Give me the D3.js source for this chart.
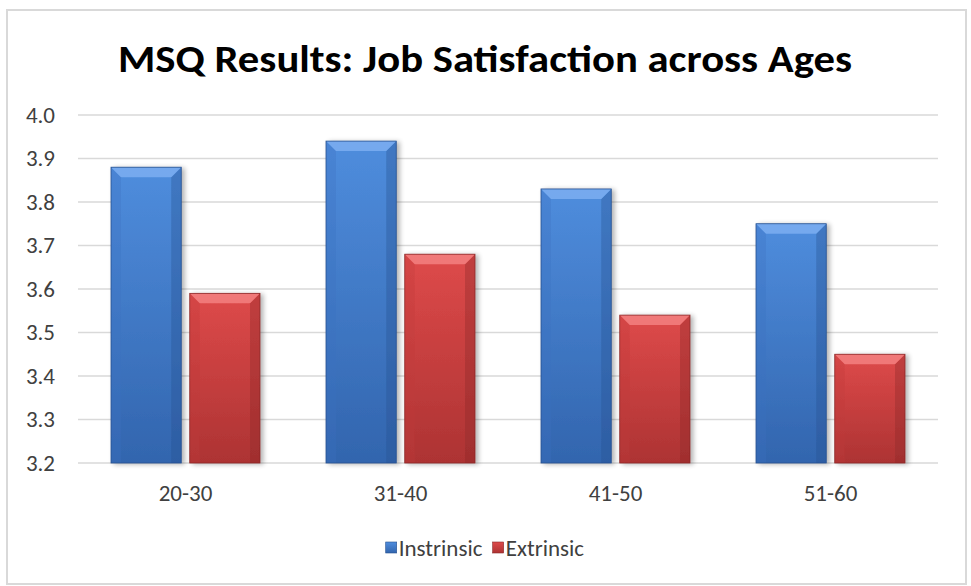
<!DOCTYPE html>
<html>
<head>
<meta charset="utf-8">
<script src="https://cdn.jsdelivr.net/npm/d3@7"></script>
<style>
  html, body { margin: 0; padding: 0; background: #fff; }
  svg { display: block; }
  text { font-family: Carlito, Calibri, "Open Sans", sans-serif; }
</style>
</head>
<body>
<svg id="chart" width="971" height="586"></svg>
<script>
// Age groups and MSQ mean scores
const categories = ["20-30", "31-40", "41-50", "51-60"];
const seriesNames = ["Instrinsic", "Extrinsic"];
const intrinsic = [3.88, 3.94, 3.83, 3.75];
const extrinsic = [3.59, 3.68, 3.54, 3.45];
const yTicks = [3.2, 3.3, 3.4, 3.5, 3.6, 3.7, 3.8, 3.9, 4.0];
const titleText = "MSQ Results: Job Satisfaction across Ages";

const svg = d3.select("#chart");
const fontFam = "Carlito, Calibri, 'Open Sans', sans-serif";
const labelSize = 23;

// chart frame
svg.append("rect")
  .attr("x", 7).attr("y", 10).attr("width", 959).attr("height", 574)
  .attr("fill", "#fff").attr("stroke", "#d9d9d9").attr("stroke-width", 2);

const plot = { left: 78, right: 938, top: 115, bottom: 463 };

const x0 = d3.scaleBand().domain(categories)
  .range([plot.left, plot.right]).paddingInner(0).paddingOuter(0);
const x1 = d3.scaleBand().domain(seriesNames)
  .range([33, x0.bandwidth() - 33]).paddingInner(0.108);
const y = d3.scaleLinear().domain([3.2, 4.0]).range([plot.bottom, plot.top]);

// gridlines
svg.append("g").selectAll("line").data(yTicks).join("line")
  .attr("x1", plot.left).attr("x2", plot.right)
  .attr("y1", d => y(d)).attr("y2", d => y(d))
  .attr("stroke", "#d9d9d9").attr("stroke-width", 1.3);

// y axis labels
const yAxis = svg.append("g")
  .attr("transform", `translate(${plot.left},0)`)
  .call(d3.axisLeft(y).tickValues(yTicks).tickFormat(d3.format(".1f")).tickSize(0).tickPadding(23));
yAxis.select(".domain").remove();
yAxis.attr("font-family", fontFam).attr("font-size", labelSize);
yAxis.selectAll("text").attr("fill", "#404040");

// x axis labels
const xAxis = svg.append("g")
  .attr("transform", `translate(0,${plot.bottom})`)
  .call(d3.axisBottom(x0).tickSize(0).tickPadding(22));
xAxis.select(".domain").remove();
xAxis.attr("font-family", fontFam).attr("font-size", labelSize);
xAxis.selectAll("text").attr("fill", "#404040");

// gradients
const defs = svg.append("defs");
const palette = {
  "Instrinsic": { top: "#4f8ddd", bot: "#3265ae", bevel: "#80b0f2", side: "#3a70bf", edge: "#26508f" },
  "Extrinsic":  { top: "#de4a4a", bot: "#ad3333", bevel: "#f58484", side: "#c03c3c", edge: "#8a2828" }
};
Object.entries(palette).forEach(([k, c], i) => {
  const g = defs.append("linearGradient").attr("id", "g" + i)
    .attr("x1", 0).attr("y1", 0).attr("x2", 0).attr("y2", 1);
  g.append("stop").attr("offset", "0%").attr("stop-color", c.top);
  g.append("stop").attr("offset", "100%").attr("stop-color", c.bot);
});
const shadow = defs.append("filter").attr("id", "shadow")
  .attr("x", "-20%").attr("y", "-10%").attr("width", "140%").attr("height", "120%");
shadow.append("feGaussianBlur").attr("in", "SourceAlpha").attr("stdDeviation", 2.5);
shadow.append("feOffset").attr("dx", 3).attr("dy", 1).attr("result", "ob");
shadow.append("feComponentTransfer").append("feFuncA").attr("type", "linear").attr("slope", 0.3);
const mg = shadow.append("feMerge");
mg.append("feMergeNode");
mg.append("feMergeNode").attr("in", "SourceGraphic");

// bars
const rows = categories.map((c, i) => ({ cat: c, vals: [
  { s: "Instrinsic", v: intrinsic[i], gi: 0 },
  { s: "Extrinsic", v: extrinsic[i], gi: 1 }
]}));

const groups = svg.append("g").selectAll("g").data(rows).join("g")
  .attr("transform", d => `translate(${x0(d.cat)},0)`);

const bars = groups.selectAll("g.bar").data(d => d.vals).join("g").attr("class", "bar")
  .attr("filter", "url(#shadow)");

const bv = 10; // bevel depth
bars.each(function(d) {
  const g = d3.select(this);
  const c = palette[d.s];
  const bx = x1(d.s), bw = x1.bandwidth();
  const by = y(d.v), bh = plot.bottom - by;
  g.append("rect").attr("x", bx).attr("y", by).attr("width", bw).attr("height", bh)
    .attr("fill", `url(#g${d.gi})`);
  // left/right bevel strips
  g.append("polygon").attr("points",
    [[bx, by], [bx + bv, by + bv], [bx + bv, plot.bottom], [bx, plot.bottom]].join(" "))
    .attr("fill", c.side).attr("opacity", 0.3);
  g.append("polygon").attr("points",
    [[bx + bw, by], [bx + bw - bv, by + bv], [bx + bw - bv, plot.bottom], [bx + bw, plot.bottom]].join(" "))
    .attr("fill", c.edge).attr("opacity", 0.35);
  // top bevel
  g.append("polygon").attr("points",
    [[bx, by], [bx + bw, by], [bx + bw - bv, by + bv], [bx + bv, by + bv]].join(" "))
    .attr("fill", c.bevel).attr("opacity", 0.8);
  g.append("rect").attr("x", bx).attr("y", by).attr("width", bw).attr("height", bh)
    .attr("fill", "none").attr("stroke", c.edge).attr("stroke-width", 0.8);
});

// title
svg.append("text")
  .attr("x", 485).attr("y", 72)
  .attr("text-anchor", "middle")
  .attr("font-size", 39).attr("font-weight", "bold").attr("fill", "#000")
  .attr("textLength", 734).attr("lengthAdjust", "spacingAndGlyphs")
  .text(titleText);

// legend, centred under the plot
const legend = svg.append("g").attr("font-family", fontFam).attr("font-size", labelSize);
let lx = 0;
const items = legend.selectAll("g").data(seriesNames).join("g");
items.append("rect").attr("y", -6).attr("width", 11).attr("height", 11)
  .attr("fill", (d, i) => `url(#g${i})`)
  .attr("stroke", d => palette[d].edge).attr("stroke-width", 0.6);
items.append("text").attr("x", 13).attr("y", 8)
  .attr("fill", "#404040").text(d => d);
items.each(function() {
  d3.select(this).attr("transform", `translate(${lx},0)`);
  lx += this.getBBox().width + 10;
});
lx -= 10;
legend.attr("transform", `translate(${485 - lx / 2},548)`);
</script>
</body>
</html>
